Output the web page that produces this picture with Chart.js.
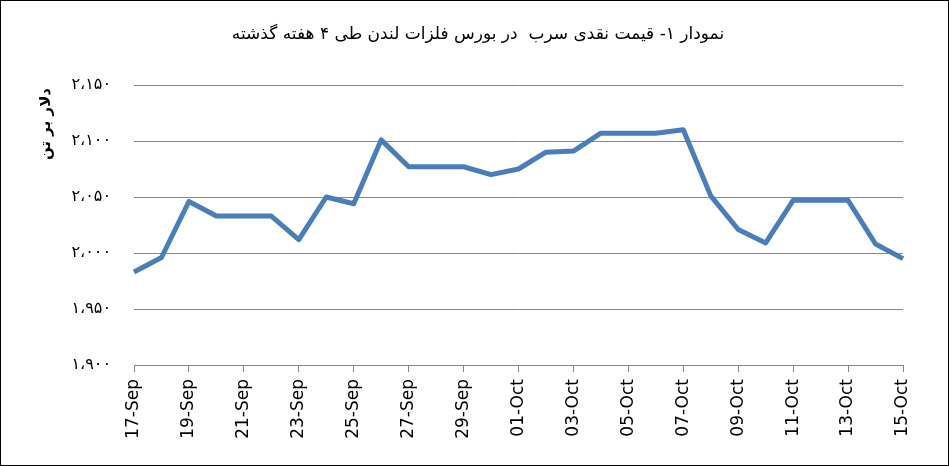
<!DOCTYPE html>
<html>
<head>
<meta charset="utf-8">
<script src="https://cdn.jsdelivr.net/npm/chart.js@4"></script>
<style>
  html, body { margin: 0; padding: 0; background: #fff; }
  canvas { display: block; }
</style>
</head>
<body>
<canvas id="chart" width="949" height="466"></canvas>
<script>
// days shown on the x axis (every day, only every second one is labelled)
const days = [
    "17-Sep", "18-Sep", "19-Sep", "20-Sep", "21-Sep", "22-Sep", "23-Sep", "24-Sep",
    "25-Sep", "26-Sep", "27-Sep", "28-Sep", "29-Sep", "30-Sep",
    "01-Oct", "02-Oct", "03-Oct", "04-Oct", "05-Oct", "06-Oct", "07-Oct", "08-Oct",
    "09-Oct", "10-Oct", "11-Oct", "12-Oct", "13-Oct", "14-Oct", "15-Oct"
];

// cash price of lead, USD per tonne
const leadPrice = [
    1983, 1996, 2046, 2033, 2033, 2033, 2012, 2050,
    2044, 2101, 2077, 2077, 2077, 2070,
    2075, 2090, 2091, 2107, 2107, 2107, 2110, 2051,
    2021, 2009, 2047, 2047, 2047, 2008, 1995
];

const yMin = 1900;
const yMax = 2150;
const yStep = 50;

const chartTitle = "نمودار ۱- قیمت نقدی سرب  در بورس فلزات لندن طی ۴ هفته گذشته";
const yTitle = "دلار بر تن";

const faDigits = "۰۱۲۳۴۵۶۷۸۹";
function toFa(n) {
    const s = String(n).replace(/\B(?=(\d{3})+(?!\d))/g, "،");
    return s.replace(/\d/g, d => faDigits[d]);
}

// title, rotated y title and the outer frame, drawn right-to-left
const decorations = {
    id: "decorations",
    afterDraw(chart) {
        const ctx = chart.ctx;
        ctx.save();
        ctx.direction = "rtl";
        ctx.fillStyle = "#000";
        ctx.textAlign = "center";
        ctx.textBaseline = "middle";
        ctx.font = "17px 'DejaVu Sans'";
        ctx.fillText(chartTitle, 478, 35);

        ctx.translate(46, 124);
        ctx.rotate(-Math.PI / 2);
        ctx.font = "bold 15px 'DejaVu Sans'";
        ctx.fillText(yTitle, 0, 0);
        ctx.restore();

        ctx.save();
        ctx.strokeStyle = "#000";
        ctx.lineWidth = 1;
        ctx.strokeRect(0.5, 0.5, chart.width - 1, chart.height - 1);
        ctx.restore();
    }
};

new Chart(document.getElementById("chart"), {
    type: "line",
    data: {
        labels: days,
        datasets: [{
            data: leadPrice,
            borderColor: "#4a7ebb",
            borderWidth: 5,
            pointRadius: 0,
            tension: 0,
            borderJoinStyle: "round",
            fill: false
        }]
    },
    options: {
        responsive: false,
        animation: false,
        devicePixelRatio: 1,
        layout: {
            padding: { top: 85, right: 46, left: 0, bottom: 0 }
        },
        plugins: {
            legend: { display: false },
            title: { display: false },
            tooltip: { enabled: false }
        },
        scales: {
            x: {
                offset: false,
                afterFit: (scale) => { scale.height = 101; },
                grid: {
                    display: true,
                    drawOnChartArea: false,
                    drawTicks: true,
                    tickLength: 7,
                    tickColor: (ctx) => ctx.index % 2 === 0 ? "#868686" : "rgba(0,0,0,0)"
                },
                border: { display: true, color: "#868686", width: 1 },
                ticks: {
                    autoSkip: false,
                    minRotation: 90,
                    maxRotation: 90,
                    padding: 7,
                    color: "#000",
                    font: { family: "'DejaVu Sans'", size: 17 },
                    callback: function (value, index) {
                        return index % 2 === 0 ? this.getLabelForValue(value) : "";
                    }
                }
            },
            y: {
                min: yMin,
                max: yMax,
                afterFit: (scale) => { scale.width = 134; },
                grid: {
                    color: "#868686",
                    lineWidth: 1,
                    drawTicks: false
                },
                border: { display: false },
                ticks: {
                    stepSize: yStep,
                    padding: 23,
                    color: "#000",
                    font: { family: "'DejaVu Sans'", size: 16 },
                    callback: (value) => toFa(value)
                }
            }
        }
    },
    plugins: [decorations]
});
</script>
</body>
</html>
